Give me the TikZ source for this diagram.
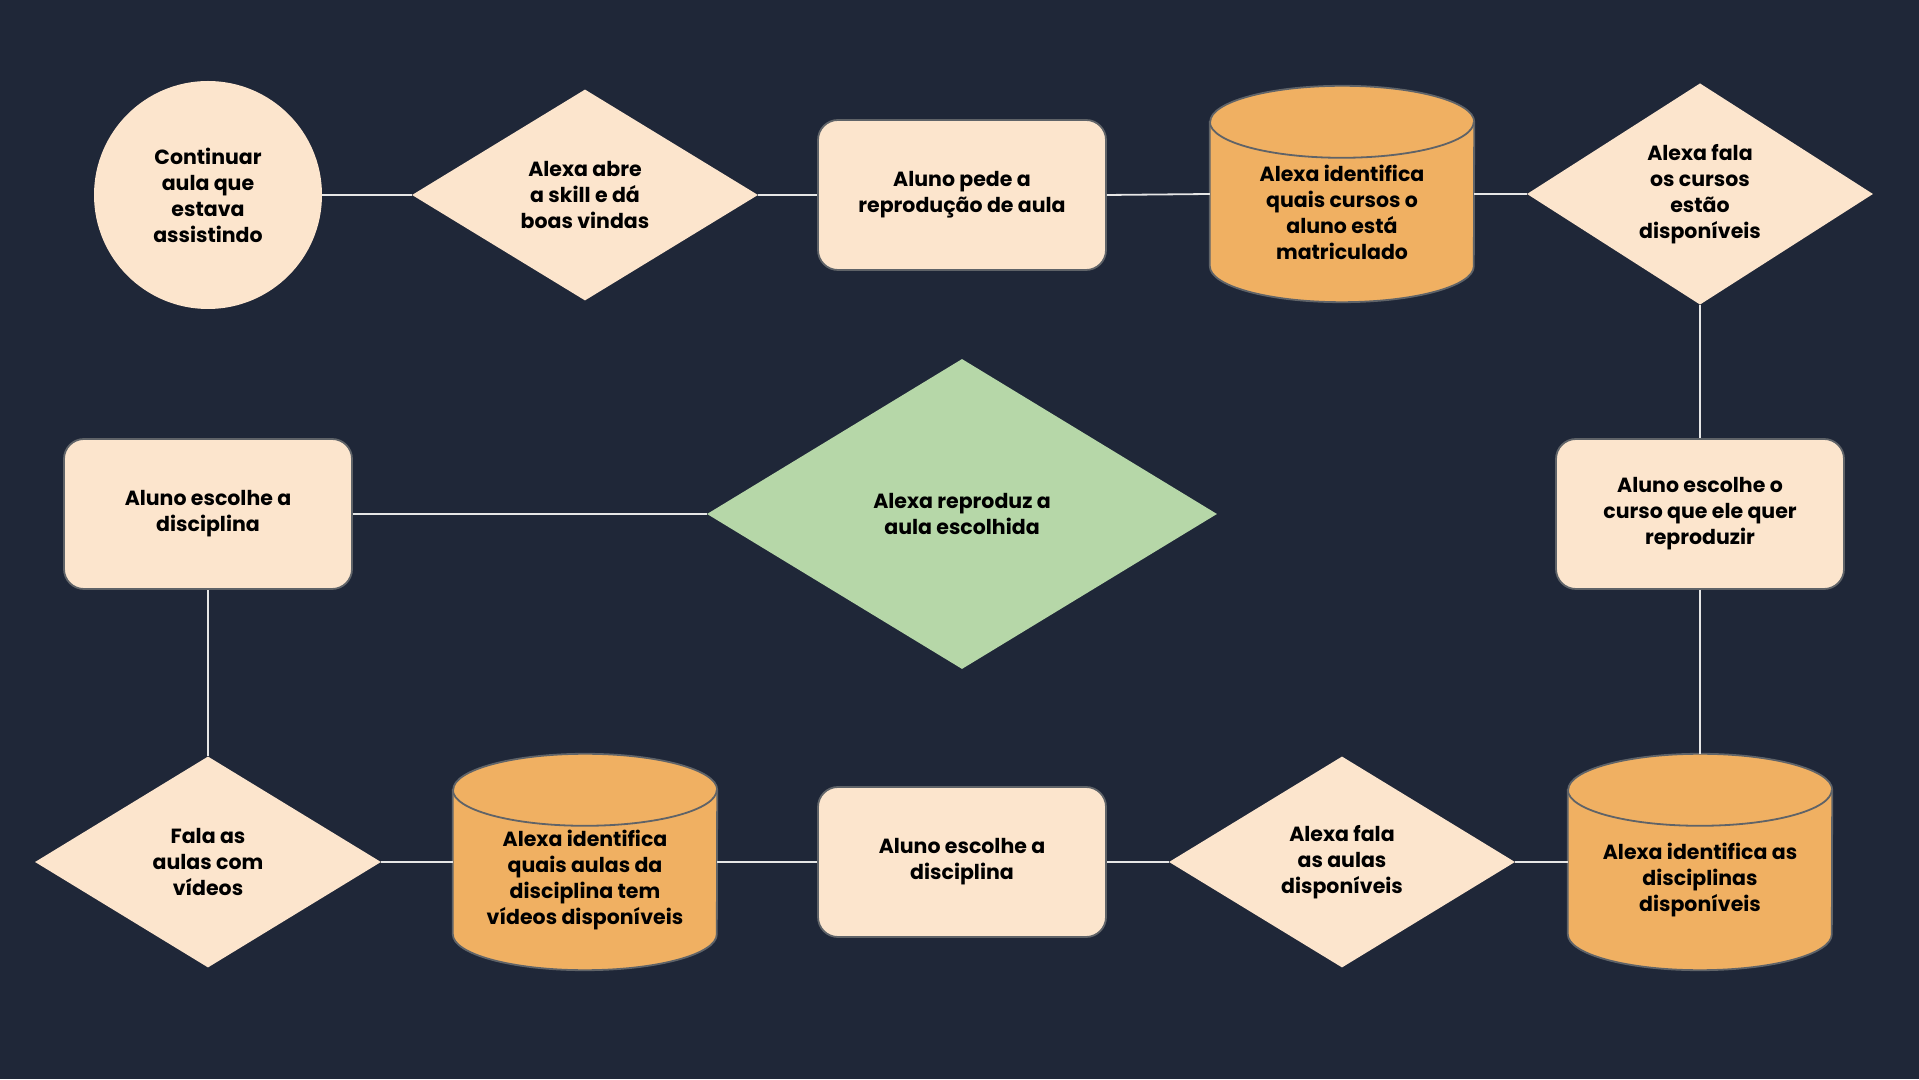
\documentclass[tikz,border=0pt]{standalone}
\usepackage{fontspec}
\setmainfont{Poppins}
\usetikzlibrary{shapes.geometric}
\definecolor{bgc}{HTML}{1F2738}
\definecolor{peach}{HTML}{FCE5CD}
\definecolor{orng}{HTML}{F0B062}
\definecolor{grn}{HTML}{B6D7A8}
\definecolor{edgec}{HTML}{5F6368}
\definecolor{linec}{HTML}{E6E6E6}
\tikzset{
  lbl/.style={font=\fontsize{20.5}{26}\selectfont\bfseries, text=black, align=center},
  startc/.style={lbl, circle, fill=peach, minimum size=228pt, inner sep=0pt},
  dec/.style={lbl, diamond, fill=peach, minimum width=346pt, minimum height=211pt, inner sep=0pt},
  bigdec/.style={lbl, diamond, fill=grn, minimum width=510pt, minimum height=310pt, inner sep=0pt},
  proc/.style={lbl, rectangle, rounded corners=20pt, fill=peach, draw=edgec, line width=1.8pt, minimum width=288pt, minimum height=150pt, inner sep=0pt},
  cylbox/.style={rectangle, minimum width=264pt, minimum height=216pt, inner sep=0pt},
  cylfill/.style={fill=orng, draw=edgec, line width=1.8pt},
  conn/.style={draw=linec, line width=1.8pt},
}
\newcommand{\cylnode}[4]{%
  \node[cylbox] (#1) at (#2,#3) {};
  \draw[cylfill] ([yshift=-36pt]#1.north west) -- ([yshift=36pt]#1.south west)
     arc[start angle=180,end angle=360,x radius=132pt,y radius=36pt]
     -- ([yshift=-36pt]#1.north east)
     arc[start angle=0,end angle=180,x radius=132pt,y radius=36pt] -- cycle;
  \draw[draw=edgec, line width=1.8pt] ([yshift=-36pt]#1.north west)
     arc[start angle=180,end angle=360,x radius=132pt,y radius=36pt];
  \node[lbl] (#1t) at (#2,#3-18) {#4};
}
\begin{document}
\begin{tikzpicture}[x=1pt,y=1pt]
\fill[bgc] (0,0) rectangle (1919,1079);
\useasboundingbox (0,0) rectangle (1919,1079);

% top row
\node[startc] (start) at (208,884) {Continuar\\aula que\\estava\\assistindo};
\node[dec] (d1) at (585,884) {Alexa abre\\a skill e dá\\boas vindas};
\node[proc] (p1) at (962,884) {Aluno pede a\\reprodução de aula};
\cylnode{c1}{1342}{885}{Alexa identifica\\quais cursos o\\aluno está\\matriculado}
\node[dec] (d2) at (1700,885) {Alexa fala\\os cursos\\estão\\disponíveis};

% middle row
\node[proc] (p2) at (1700,565) {Aluno escolhe o\\curso que ele quer\\reproduzir};
\node[proc] (p4) at (208,565) {Aluno escolhe a\\disciplina};
\node[bigdec] (fim) at (962,565) {Alexa reproduz a\\aula escolhida};

% bottom row
\cylnode{c2}{1700}{217}{Alexa identifica as\\disciplinas\\disponíveis}
\node[dec] (d3) at (1342,217) {Alexa fala\\as aulas\\disponíveis};
\node[proc] (p3) at (962,217) {Aluno escolhe a\\disciplina};
\cylnode{c3}{585}{217}{Alexa identifica\\quais aulas da\\disciplina tem\\vídeos disponíveis}
\node[dec] (d4) at (208,217) {Fala as\\aulas com\\vídeos};

% connectors
\draw[conn] (start.east) -- (d1.west);
\draw[conn] (d1.east) -- (p1.west);
\draw[conn] (p1.east) -- (c1.west);
\draw[conn] (c1.east) -- (d2.west);
\draw[conn] (d2.south) -- (p2.north);
\draw[conn] (p2.south) -- (c2.north);
\draw[conn] (c2.west) -- (d3.east);
\draw[conn] (d3.west) -- (p3.east);
\draw[conn] (p3.west) -- (c3.east);
\draw[conn] (c3.west) -- (d4.east);
\draw[conn] (d4.north) -- (p4.south);
\draw[conn] (p4.east) -- (fim.west);
\end{tikzpicture}
\end{document}
